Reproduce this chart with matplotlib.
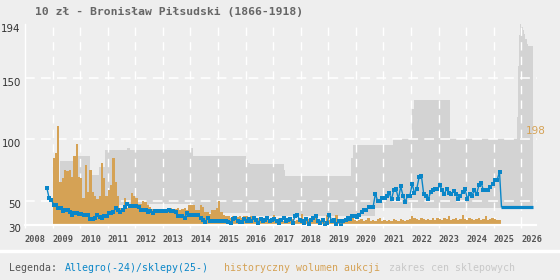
import matplotlib
matplotlib.use('Agg')
import matplotlib.pyplot as plt
from matplotlib.lines import Line2D
import matplotlib.transforms as mtransforms
import numpy as np

plt.rcParams['lines.scale_dashes'] = False

#----------------------------------------------------------------------------------------------------
# data
#----------------------------------------------------------------------------------------------------
title = '10 zł - Bronisław Piłsudski (1866-1918)'

# historical auction volume, monthly bars (chart units, bars start at 30)
vol_2009 = [85, 89, 111, 65, 68, 75, 74, 75, 69, 86, 96, 69]
vol_2010 = [68, 52, 79, 57, 75, 57, 54, 51, 54, 81, 68, 54]
vol_2011 = [59, 63, 85, 65, 54, 44, 42, 52, 44, 46, 56, 54]
vol_2012 = [52, 47, 47, 50, 49, 46, 45, 43, 43, 42, 43, 43]
vol_2013 = [42, 43, 42, 44, 43, 43, 44, 42, 43, 44, 42, 46]
vol_2014 = [46, 46, 42, 42, 46.5, 45, 41, 41, 39, 42, 42, 44]
vol_2015 = [50, 41, 38, 37.5, 37, 36, 37, 36, 36.5, 37, 36, 37]
vol_2016 = [37, 36, 37.5, 37, 35, 36, 34, 35, 36, 34, 35, 34]
vol_2017 = [38, 34, 36, 35, 33, 34, 33, 34, 35, 33, 34, 35]
vol_2018 = [39, 34, 33, 35, 33, 34, 36, 33, 34, 35, 33, 38]
vol_2019 = [34, 33, 35, 38, 34, 33, 34, 33, 35, 37, 36, 34]
vol_2020 = [33, 34, 35, 33, 34, 36, 33, 34, 33, 35, 36, 33]
vol_2021 = [34, 33, 34, 33, 35, 34, 33, 35, 34, 33, 34, 35]
vol_2022 = [37.5, 36, 35, 34, 36, 35, 34, 35, 34, 36, 34, 36]
vol_2023 = [35, 34, 36, 35, 37, 34, 35, 36, 34, 35, 38.5, 35]
vol_2024 = [34, 36, 35, 34, 35, 36, 34, 35, 37, 34, 35, 36]
vol_2025 = [35, 34, 34]

# Allegro prices, monthly (starts Oct 2008)
alg_2008 = [60.4, 52, 50.5]
alg_2009 = [46.5, 46.5, 44, 44, 41.8, 42.3, 42.3, 41, 38.3, 40, 40, 38.8]
alg_2010 = [38.8, 37.9, 37.9, 37.9, 35, 35, 35.8, 38, 36.7, 36, 37, 37]
alg_2011 = [40, 40, 41, 43.7, 42, 40.6, 42, 44.5, 47.3, 45.3, 45.3, 45.3]
alg_2012 = [45.3, 44.5, 42, 42, 42, 40.6, 41.8, 40, 41.8, 41.8, 41.8, 41.8]
alg_2013 = [41.8, 41.8, 42.3, 41.8, 41.8, 40.6, 37.2, 37.2, 37.2, 36, 40, 38]
alg_2014 = [38, 38, 38, 38, 36, 34.4, 32.5, 36, 33.6, 33, 33, 33]
alg_2015 = [33, 33.6, 33.6, 33.6, 32.5, 31.4, 35, 36, 33.6, 32.5, 32.5, 35]
alg_2016 = [33.6, 35, 33.6, 36, 34, 32, 35, 33, 34, 36, 33, 34]
alg_2017 = [35, 33, 32, 34, 36, 33, 34, 35, 32, 37, 38.5, 34]
alg_2018 = [33, 32, 35, 31, 34, 36, 37.5, 33, 32, 34, 29.5, 32]
alg_2019 = [38.5, 33, 34, 31, 33, 29.5, 33, 34, 36, 35, 37, 37]
alg_2020 = [36.3, 38.5, 41, 42, 42, 44.5, 45, 45, 55.5, 49.4, 50, 52]
alg_2021 = [52, 54, 55.8, 51, 58.8, 59.6, 51, 61.5, 54, 49, 54, 54]
alg_2022 = [63.7, 56, 59.6, 69, 70.4, 55.5, 54, 51.3, 56.8, 58.2, 59.6, 59.6]
alg_2023 = [62.3, 58.8, 55.5, 59.6, 56, 55.5, 57.6, 55.5, 51, 54.1, 56.8, 59.6]
alg_2024 = [51.4, 55.5, 54, 58.2, 55, 62.3, 64.5, 58.2, 58.2, 58.2, 60.9, 63.7]
alg_2025 = [67, 67, 73.2]

# current shop price (flat part at the end)
shop_now = 45
shop_now_from, shop_now_to = 2025.28, 2026.42

# range of shop prices (step edges)
shop_t = [2009.27, 2009.92, 2010.37, 2010.7, 2010.9, 2011.7, 2011.8, 2012.5, 2014.0, 2014.1,
          2016.0, 2016.08, 2016.15, 2017.38, 2017.42, 2019.83, 2019.88, 2020.7, 2021.35, 2022.05,
          2022.1, 2023.42, 2025.3, 2025.85, 2025.88, 2025.92, 2025.96, 2026.0, 2026.05, 2026.1,
          2026.15, 2026.2, 2026.25, 2026.42]
shop_hi = [82, 86.5, 70.5, 77, 91, 92.6, 91, 91, 93, 86.3,
           83, 80.5, 80, 75, 70, 85, 95, 95, 100.5, 125,
           132, 100.5, 100.5, 118, 160, 185, 194, 192, 189, 186,
           182, 178, 176, 176]
shop_lo = [46, 46, 46, 46, 46, 46, 46, 47.5, 47.5, 40,
           40, 40, 37, 37, 37, 37, 37, 43.7, 43.7, 43.7,
           43.7, 43.7, 45, 45, 45, 45, 45, 45, 45, 45,
           45, 45, 45, 45]

vol_max_label = '198'
years = list(range(2008, 2027))
y_ticks = [30, 50, 100, 150, 194]

#----------------------------------------------------------------------------------------------------
# arrange
#----------------------------------------------------------------------------------------------------
vol = vol_2009 + vol_2010 + vol_2011 + vol_2012 + vol_2013 + vol_2014 + vol_2015 + vol_2016 + \
      vol_2017 + vol_2018 + vol_2019 + vol_2020 + vol_2021 + vol_2022 + vol_2023 + vol_2024 + vol_2025
vol_x = 2009 + np.arange(len(vol)) / 12

alg = alg_2008 + alg_2009 + alg_2010 + alg_2011 + alg_2012 + alg_2013 + alg_2014 + alg_2015 + \
      alg_2016 + alg_2017 + alg_2018 + alg_2019 + alg_2020 + alg_2021 + alg_2022 + alg_2023 + \
      alg_2024 + alg_2025
alg_x = 2008 + 9 / 12 + np.arange(len(alg)) / 12 + 1 / 24

bg = '#eeeeee'
c_blue = '#0a86c8'
c_orange = '#d5a255'
c_grey = '#d3d3d3'

#----------------------------------------------------------------------------------------------------
# plot
#----------------------------------------------------------------------------------------------------
fig = plt.figure(figsize=(5.6, 2.8), dpi=100, facecolor=bg)
ax = fig.add_axes([25 / 560, 1 - 225 / 280, 511.5 / 560, (225 - 24.3) / 280])
ax.set_facecolor(bg)

ax.fill_between(shop_t, shop_lo, shop_hi, step='post', color=c_grey, lw=0, zorder=1)

# white dashed grid
for yv in [50, 100, 150]:
    ax.axhline(yv, color='white', lw=1.1, dashes=(7, 4.5), zorder=1.5)
for xv in years[1:]:
    ax.axvline(xv, color='white', lw=1.0, dashes=(6, 4.5), zorder=1.5)

ax.bar(vol_x, np.array(vol) - 30, bottom=30, width=1 / 12, align='edge',
       color=c_orange, lw=0, zorder=2)

ax.plot(list(alg_x) + [shop_now_from], alg + [shop_now], color=c_blue, lw=1.0, zorder=3)
ax.plot(alg_x, alg, 's', ms=2.3, color=c_blue, mew=0, zorder=3)
ax.plot([shop_now_from, shop_now_to], [shop_now, shop_now], color=c_blue, lw=2.3,
        solid_capstyle='butt', zorder=3)

ax.set_xlim(2008, 2026.55)
ax.set_ylim(30, 194)

for s in ['top', 'right']:
    ax.spines[s].set_visible(False)
ax.spines['left'].set_color('white')
ax.spines['bottom'].set_color('white')
ax.spines['bottom'].set_linewidth(1.6)
ax.spines['left'].set_linewidth(1.0)

ax.set_yticks(y_ticks)
ax.set_yticklabels([str(v) for v in y_ticks], fontsize=7.4, color='#333333', family='DejaVu Sans')
ax.tick_params(axis='y', length=0, pad=3)
shift = mtransforms.ScaledTranslation(0, -3.5 / 100, fig.dpi_scale_trans)
for lab in ax.get_yticklabels():
    lab.set_transform(lab.get_transform() + shift)

ax.set_xticks(years)
ax.set_xticklabels([str(y) for y in years], fontsize=6.2, color='#555555',
                   family='DejaVu Sans Mono', fontweight='bold', ha='left')
ax.tick_params(axis='x', length=2.5, color='white', width=1, pad=5)

ax.text(2026.15, 107, vol_max_label, color=c_orange, fontsize=7.5, ha='left', va='center',
        family='DejaVu Sans', clip_on=False)

fig.text(35 / 560, 1 - 12 / 280, title, fontsize=8.2, fontweight='bold', color='#666666',
         family='DejaVu Sans Mono', va='center', ha='left')

# separator and legend
fig.add_artist(Line2D([0, 1], [1 - 251 / 280] * 2, color='white', lw=2.5))
leg_y = 1 - 268 / 280
fig.text(9 / 560, leg_y, 'Legenda:', fontsize=7.1, color='#555555', family='DejaVu Sans Mono', va='center')
fig.text(65 / 560, leg_y, 'Allegro(-24)/sklepy(25-)', fontsize=7.1, color=c_blue,
         family='DejaVu Sans Mono', va='center')
fig.text(224 / 560, leg_y, 'historyczny wolumen aukcji', fontsize=7.1, color=c_orange,
         family='DejaVu Sans Mono', va='center')
fig.text(389 / 560, leg_y, 'zakres cen sklepowych', fontsize=7.1, color='#c8c8c8',
         family='DejaVu Sans Mono', va='center')

fig.savefig('out.png', dpi=100, facecolor=bg)
